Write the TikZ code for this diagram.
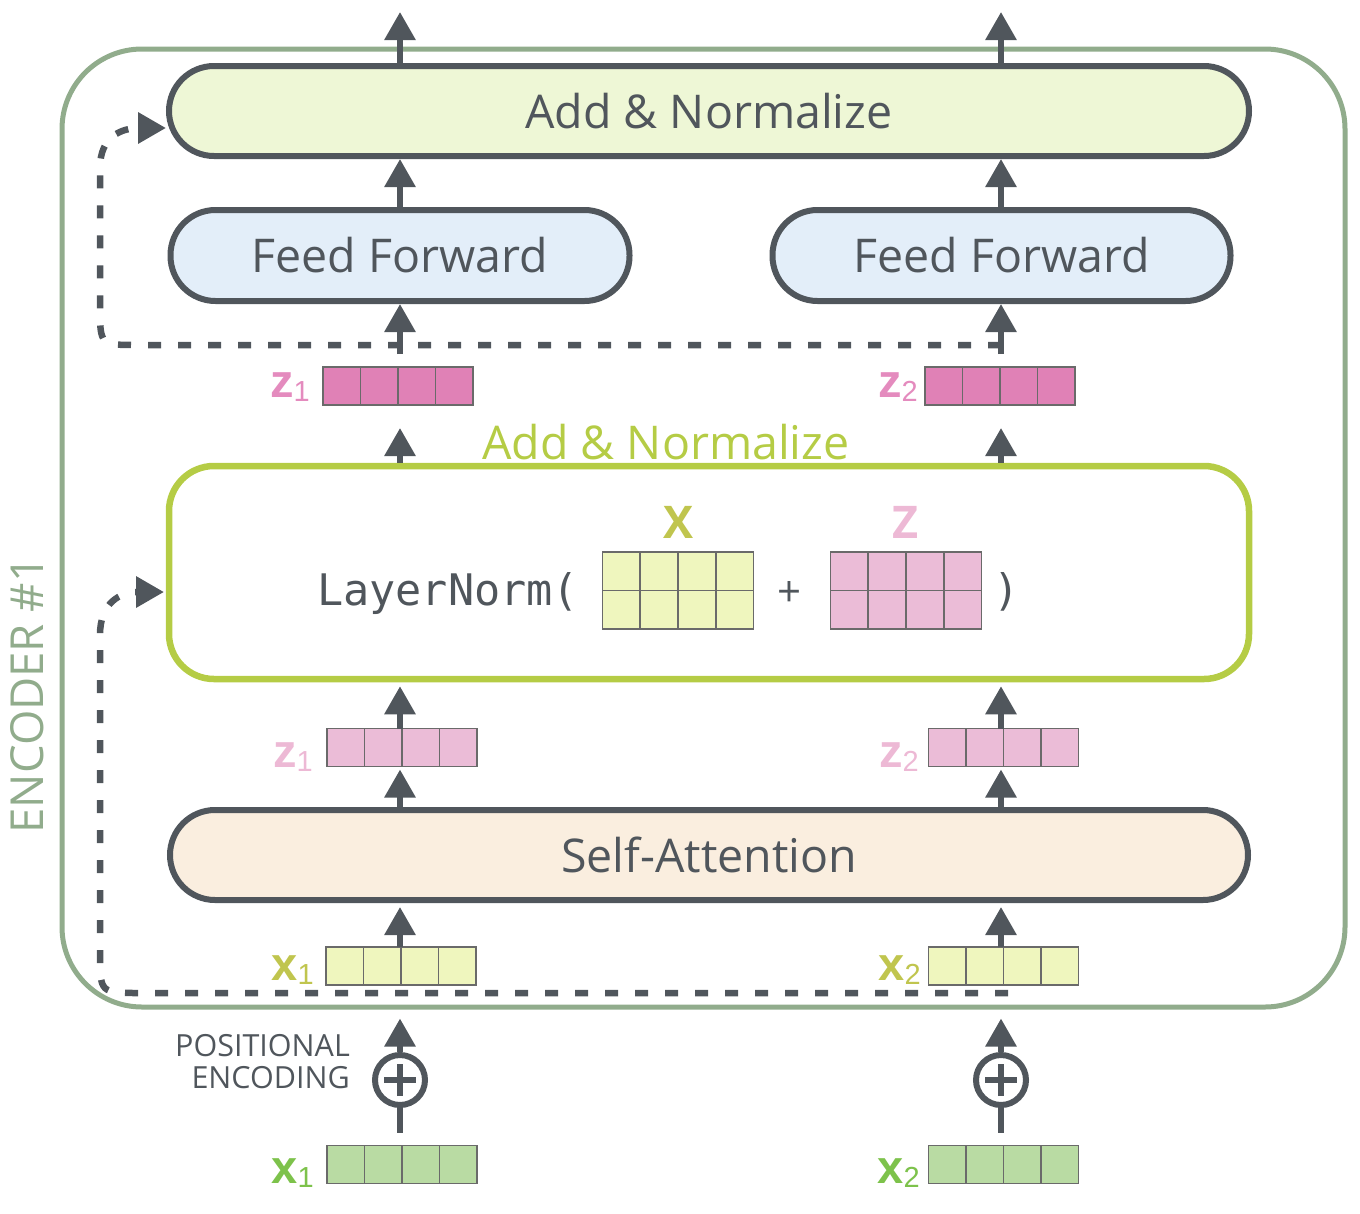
\documentclass[tikz,border=0pt]{standalone}
\usepackage{fontspec}
\usepackage{graphicx}
\setmainfont{Open Sans}
\newfontfamily\labfont{Liberation Sans}
\newfontfamily\monofont{DejaVu Sans Mono}
\usetikzlibrary{arrows.meta,calc}
\definecolor{dk}{HTML}{50565C}
\definecolor{encg}{HTML}{91AC8C}
\definecolor{lime}{HTML}{B5CC45}
\definecolor{anfill}{HTML}{EEF7D6}
\definecolor{fffill}{HTML}{E3EEF9}
\definecolor{safill}{HTML}{FAEEDF}
\definecolor{cellc}{HTML}{6A6A6A}
\definecolor{zdark}{HTML}{E081B6}
\definecolor{zdarklab}{HTML}{E48BBE}
\definecolor{zlight}{HTML}{EBBCD7}
\definecolor{zlightlab}{HTML}{EDB9D5}
\definecolor{xyel}{HTML}{EFF6BE}
\definecolor{xyellab}{HTML}{C0C54E}
\definecolor{xgrn}{HTML}{B9DBA3}
\definecolor{xgrnlab}{HTML}{7DC24B}
\newcommand\sublab[2]{{\labfont\fontsize{47}{47}\selectfont\bfseries #1}\raisebox{-4pt}{\labfont\fontsize{29}{29}\selectfont #2}}
\newcommand\rowcells[1]{%
  \foreach \i in {1,2,3}
    \draw[cellline] ($(#1.south west)!\i/4!(#1.south east)$) -- ($(#1.north west)!\i/4!(#1.north east)$);}
\newcommand\matcells[1]{%
  \foreach \i in {1,2,3}
    \draw[cellline] ($(#1.south west)!\i/4!(#1.south east)$) -- ($(#1.north west)!\i/4!(#1.north east)$);
  \draw[cellline] (#1.west) -- (#1.east);}
\begin{document}
\begin{tikzpicture}[x=1pt,y=-1pt,
  box/.style={draw=dk, line width=6pt, rounded corners=45pt, minimum height=90pt,
    inner sep=0pt, font=\fontsize{46.5}{46.5}\selectfont, text=dk},
  arr/.style={draw=dk, line width=6pt, -{Triangle[width=30pt,length=28pt]}},
  plain/.style={draw=dk, line width=6pt},
  dsh/.style={draw=dk, line width=6.5pt, dash pattern=on 13pt off 17pt},
  rowbox/.style={draw=cellc, line width=1.8pt, minimum width=150pt, minimum height=38pt,
    inner sep=0pt, outer sep=0pt},
  matbox/.style={draw=cellc, line width=1.8pt, minimum width=151pt, minimum height=77pt,
    inner sep=0pt, outer sep=0pt},
  cellline/.style={draw=cellc, line width=1.8pt},
  lab/.style={anchor=base east, inner sep=0pt},
  pe/.style={circle, draw=dk, line width=6pt, minimum size=50pt, inner sep=0pt, fill=white}
]
\useasboundingbox (0,0) rectangle (1360,1213);

% encoder frame
\node[draw=encg, line width=5pt, rounded corners=80pt, minimum width=1283pt,
  minimum height=958pt, inner sep=0pt] (enc) at (703.5,528) {};
\node[rotate=90, text=encg, font=\fontsize{45.5}{45.5}\selectfont] (enclab) at (27,695) {ENCODER \#1};

% column coordinates
\coordinate (c1) at (400,0);
\coordinate (c2) at (1001,0);

% main blocks
\node[box, fill=anfill, minimum width=1080pt] (an) at (709,111) {Add \& Normalize};
\node[box, fill=fffill, minimum width=459pt, minimum height=91pt] (ff1) at (400,255.5) {Feed Forward};
\node[box, fill=fffill, minimum width=458pt, minimum height=91pt] (ff2) at (1001.5,255.5) {Feed Forward};
\node[draw=lime, line width=6.5pt, rounded corners=45pt, minimum width=1080pt,
  minimum height=213pt, inner sep=0pt] (ln) at (709,572.5) {};
\node[text=lime, anchor=base, inner sep=0pt, font=\fontsize{46.5}{46.5}\selectfont] (lnlab) at (666,459) {Add \& Normalize};
\node[box, fill=safill, minimum width=1078pt] (sa) at (709,855) {Self-Attention};

% LayerNorm content
\node[anchor=base west, inner sep=0pt, text=dk, font=\monofont\fontsize{43.5}{43.5}\selectfont] (lnt) at (317,605) {LayerNorm(};
\node[matbox, fill=xyel] (mx) at (678,590.5) {};
\matcells{mx}
\node[matbox, fill=zlight] (mz) at (906,590.5) {};
\matcells{mz}
\node[anchor=base, inner sep=0pt, text=xyellab, font=\bfseries\fontsize{45}{45}\selectfont] (mxl) at (678,538) {X};
\node[anchor=base, inner sep=0pt, text=zlightlab, font=\bfseries\fontsize{45}{45}\selectfont] (mzl) at (906,538) {Z};
\node[inner sep=0pt, text=dk, font=\fontsize{42}{42}\selectfont] (plus) at (789,594) {+};
\node[anchor=base west, inner sep=0pt, text=dk, font=\monofont\fontsize{43.5}{43.5}\selectfont] (rp) at (993,605) {)};

% vector rows
\node[rowbox, fill=zdark] (zu1) at (398,386) {}; \rowcells{zu1}
\node[rowbox, fill=zdark] (zu2) at (1000,386) {}; \rowcells{zu2}
\node[rowbox, fill=zlight] (zl1) at (402,747.5) {}; \rowcells{zl1}
\node[rowbox, fill=zlight] (zl2) at (1003.5,747.5) {}; \rowcells{zl2}
\node[rowbox, fill=xyel] (xy1) at (401,966) {}; \rowcells{xy1}
\node[rowbox, fill=xyel] (xy2) at (1003.5,966) {}; \rowcells{xy2}
\node[rowbox, fill=xgrn] (xg1) at (402,1164.5) {}; \rowcells{xg1}
\node[rowbox, fill=xgrn] (xg2) at (1003.5,1164.5) {}; \rowcells{xg2}

% row labels
\node[lab, text=zdarklab] (lzu1) at (310,397) {\sublab{z}{1}};
\node[lab, text=zdarklab] (lzu2) at (918,397) {\sublab{z}{2}};
\node[lab, text=zlightlab] (lzl1) at (313,767) {\sublab{z}{1}};
\node[lab, text=zlightlab] (lzl2) at (919,767) {\sublab{z}{2}};
\node[lab, text=xyellab] (lxy1) at (314,980) {\sublab{x}{1}};
\node[lab, text=xyellab] (lxy2) at (921,980) {\sublab{x}{2}};
\node[lab, text=xgrnlab] (lxg1) at (314,1183) {\sublab{x}{1}};
\node[lab, text=xgrnlab] (lxg2) at (920,1183) {\sublab{x}{2}};

% positional encoding
\node[pe] (pe1) at (400,1080) {};
\node[pe] (pe2) at (1001,1080) {};
\foreach \p in {pe1,pe2}{
  \draw[plain] ([xshift=-16pt]\p.center) -- ([xshift=16pt]\p.center);
  \draw[plain] ([yshift=-16pt]\p.center) -- ([yshift=16pt]\p.center);
}
\node[anchor=east, align=right, inner sep=0pt, text=dk, font=\fontsize{30.5}{32}\selectfont] (pel) at (350,1062) {POSITIONAL\\ENCODING};

% residual (dashed) connections
\coordinate (r1s) at (1001,345);
\coordinate (r1e) at (166,128);
\coordinate (r2s) at (1008,993);
\coordinate (r2e) at (164,592);
\draw[dsh, -{Triangle[width=30pt,length=28pt]}] (r1s) -- (138,345) .. controls (100,345) .. (100,307) -- (100,168)
  .. controls (100,136) and (122,128) .. (r1e);
\draw[dsh, -{Triangle[width=30pt,length=28pt]}] (r2s) -- (140,993) .. controls (100,993) .. (100,953) -- (100,635)
  .. controls (100,603) and (120,592) .. (r2e);

% arrows
\coordinate (o1) at (400,12);
\coordinate (o2) at (1001,12);
\coordinate (j1) at (400,354);
\coordinate (j2) at (1001,354);
\draw[arr] (an.north -| o1) -- (o1);
\draw[arr] (an.north -| o2) -- (o2);
\draw[arr] (ff1.north -| c1) -- (an.south -| c1);
\draw[arr] (ff2.north -| c2) -- (an.south -| c2);
\draw[arr] (j1) -- (ff1.south -| c1);
\draw[arr] (j2) -- (ff2.south -| c2);
\draw[arr, shorten >=23pt] (ln.north -| c1) -- (zu1.south -| c1);
\draw[arr, shorten >=23pt] (ln.north -| c2) -- (zu2.south -| c2);
\draw[arr, shorten >=4pt] (zl1.north -| c1) -- (ln.south -| c1);
\draw[arr, shorten >=4pt] (zl2.north -| c2) -- (ln.south -| c2);
\draw[arr, shorten >=3pt] (sa.north -| c1) -- (zl1.south -| c1);
\draw[arr, shorten >=3pt] (sa.north -| c2) -- (zl2.south -| c2);
\draw[arr, shorten >=4pt] (xy1.north -| c1) -- (sa.south -| c1);
\draw[arr, shorten >=4pt] (xy2.north -| c2) -- (sa.south -| c2);
\draw[arr, shorten >=9pt] (pe1.north) -- (pe1.north |- enc.south);
\draw[arr, shorten >=9pt] (pe2.north) -- (pe2.north |- enc.south);
\draw[plain, shorten <=13pt] (xg1.north -| c1) -- (pe1.south);
\draw[plain, shorten <=13pt] (xg2.north -| c2) -- (pe2.south);
\end{tikzpicture}
\end{document}
